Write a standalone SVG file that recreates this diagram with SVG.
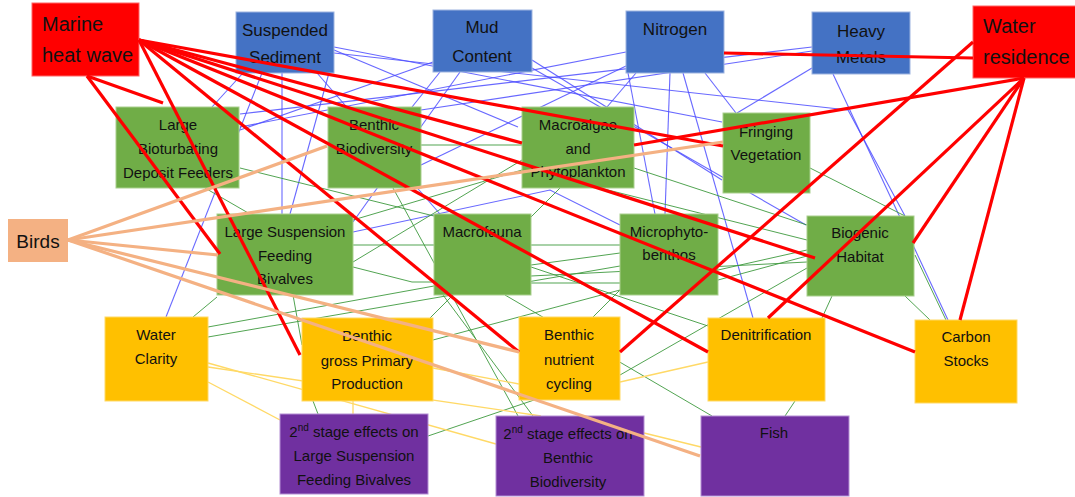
<svg xmlns="http://www.w3.org/2000/svg" width="1075" height="497" viewBox="0 0 1075 497">
<style>
text{font-family:"Liberation Sans",Arial,sans-serif;fill:#111;text-anchor:middle;font-size:15px}
.big{font-size:20px;text-anchor:start}
.mid{font-size:17px}
.birds{font-size:19px}
.drv rect{stroke:#ff6666;stroke-width:1}
.red{fill:#FF0000}
.blue{fill:#4472C4;stroke:#9db4e0;stroke-width:1}
.green{fill:#70AD47;stroke:#a9d08e;stroke-width:1}
.yellow{fill:#FFC000;stroke:#ffd966;stroke-width:1}
.purple{fill:#7030A0;stroke:#b38ed3;stroke-width:1}
.peach{fill:#F4B183}
#thin line,#thin polyline{fill:none}
.b{stroke:#4d4dff;stroke-width:1.1;stroke-opacity:.85}
.g{stroke:#3f9a3f;stroke-width:1;stroke-opacity:.9}
.y{stroke:#FFD966;stroke-width:1.3}
.r{stroke:#FF0000;stroke-width:3.2;fill:none}
.p{stroke:#F4B183;stroke-width:3.2;fill:none}
</style>

<g id="connectors">
<g id="thin">
<!-- blue -->
<line class="b" x1="243" y1="73" x2="212" y2="107"/>
<line class="b" x1="262" y1="73" x2="166" y2="317"/>
<line class="b" x1="282" y1="73" x2="282" y2="214"/>
<line class="b" x1="329" y1="73" x2="290" y2="214"/>
<line class="b" x1="334" y1="50" x2="518" y2="127"/>
<polyline class="b" points="334,53 848,110 905,216"/>
<line class="b" x1="334" y1="47" x2="722" y2="122"/>
<line class="b" x1="317" y1="73" x2="440" y2="214"/>
<polyline class="b" points="353,232 550,190 620,225"/>
<line class="b" x1="433" y1="62" x2="240" y2="130"/>
<line class="b" x1="440" y1="72" x2="412" y2="107"/>
<line class="b" x1="532" y1="60" x2="722" y2="180"/>
<line class="b" x1="532" y1="68" x2="806" y2="225"/>
<line class="b" x1="460" y1="72" x2="353" y2="222"/>
<line class="b" x1="636" y1="73" x2="607" y2="107"/>
<line class="b" x1="670" y1="73" x2="665" y2="214"/>
<line class="b" x1="683" y1="73" x2="753" y2="318"/>
<line class="b" x1="705" y1="73" x2="736" y2="113"/>
<line class="b" x1="626" y1="52" x2="240" y2="127"/>
<line class="b" x1="628" y1="73" x2="655" y2="214"/>
<line class="b" x1="626" y1="66" x2="421" y2="165"/>
<line class="b" x1="812" y1="47" x2="240" y2="114"/>
<line class="b" x1="812" y1="51" x2="421" y2="110"/>
<line class="b" x1="812" y1="68" x2="737" y2="113"/>
<line class="b" x1="833" y1="74" x2="948" y2="320"/>
<!-- green -->
<line class="g" x1="240" y1="168" x2="434" y2="216"/>
<line class="g" x1="421" y1="145" x2="522" y2="145"/>
<line class="g" x1="353" y1="245" x2="434" y2="245"/>
<line class="g" x1="531" y1="245" x2="620" y2="245"/>
<line class="g" x1="531" y1="283" x2="620" y2="283"/>
<polyline class="g" points="353,267 412,282 434,282"/>
<line class="g" x1="353" y1="262" x2="522" y2="160"/>
<line class="g" x1="353" y1="220" x2="522" y2="170"/>
<line class="g" x1="531" y1="265" x2="620" y2="253"/>
<line class="g" x1="634" y1="168" x2="807" y2="225"/>
<line class="g" x1="810" y1="168" x2="905" y2="216"/>
<line class="g" x1="718" y1="270" x2="807" y2="250"/>
<line class="g" x1="718" y1="280" x2="807" y2="256"/>
<line class="g" x1="531" y1="276" x2="807" y2="262"/>
<line class="g" x1="832" y1="296" x2="822" y2="318"/>
<line class="g" x1="905" y1="296" x2="930" y2="320"/>
<line class="g" x1="915" y1="255" x2="946" y2="320"/>
<line class="g" x1="217" y1="297" x2="193" y2="317"/>
<line class="g" x1="208" y1="327" x2="434" y2="286"/>
<line class="g" x1="208" y1="337" x2="620" y2="266"/>
<line class="g" x1="313" y1="401" x2="318" y2="414"/>
<line class="g" x1="428" y1="436" x2="540" y2="398"/>
<line class="g" x1="620" y1="375" x2="807" y2="268"/>
<line class="g" x1="505" y1="295" x2="712" y2="416"/>
<line class="g" x1="795" y1="401" x2="785" y2="416"/>
<line class="g" x1="393" y1="188" x2="518" y2="416"/>
<line class="g" x1="205" y1="188" x2="250" y2="214"/>
<line class="g" x1="293" y1="295" x2="302" y2="345"/>
<line class="g" x1="443" y1="295" x2="533" y2="416"/>
<line class="g" x1="531" y1="267" x2="708" y2="326"/>
<line class="g" x1="620" y1="290" x2="593" y2="317"/>
<line class="g" x1="433" y1="340" x2="620" y2="290"/>
<line class="g" x1="560" y1="188" x2="430" y2="318"/>
<line class="g" x1="600" y1="188" x2="807" y2="240"/>
<!-- yellow -->
<line class="y" x1="208" y1="363" x2="496" y2="444"/>
<line class="y" x1="208" y1="367" x2="541" y2="416"/>
<line class="y" x1="208" y1="382" x2="280" y2="420"/>
<line class="y" x1="353" y1="401" x2="353" y2="414"/>
<line class="y" x1="433" y1="368" x2="519" y2="384"/>
<line class="y" x1="620" y1="382" x2="708" y2="362"/>
<line class="y" x1="644" y1="433" x2="701" y2="447"/>
</g>
</g>

<g id="nodes">
<g id="n-mhw" class="drv"><rect class="red" x="32" y="3" width="107" height="73"/><text class="big" x="42" y="31">Marine</text><text class="big" x="42" y="62">heat wave</text></g>
<g id="n-wr" class="drv"><rect class="red" x="973" y="6" width="104" height="72"/><text class="big" x="983" y="33">Water</text><text class="big" x="983" y="64">residence</text></g>
<g id="n-ss"><rect class="blue" x="236" y="12" width="98" height="61"/><text class="mid" x="285" y="36">Suspended</text><text class="mid" x="285" y="63">Sediment</text></g>
<g id="n-mud"><rect class="blue" x="433" y="10" width="99" height="62"/><text class="mid" x="482" y="33">Mud</text><text class="mid" x="482" y="62">Content</text></g>
<g id="n-nit"><rect class="blue" x="626" y="11" width="98" height="62"/><text class="mid" x="675" y="35">Nitrogen</text></g>
<g id="n-hm"><rect class="blue" x="812" y="12" width="98" height="62"/><text class="mid" x="861" y="37">Heavy</text><text class="mid" x="861" y="63">Metals</text></g>
<g id="n-lbdf"><rect class="green" x="116" y="107" width="123" height="81"/><text x="178" y="130">Large</text><text x="178" y="154">Bioturbating</text><text x="178" y="178">Deposit Feeders</text></g>
<g id="n-bb"><rect class="green" x="328" y="107" width="93" height="81"/><text x="374" y="130">Benthic</text><text x="374" y="154">Biodiversity</text></g>
<g id="n-map"><rect class="green" x="522" y="107" width="112" height="81"/><text x="578" y="130">Macroalgae</text><text x="578" y="154">and</text><text x="578" y="177">Phytoplankton</text></g>
<g id="n-fv"><rect class="green" x="723" y="113" width="87" height="80"/><text x="766" y="137">Fringing</text><text x="766" y="160">Vegetation</text></g>
<g id="n-birds"><rect class="peach" x="8" y="219" width="60" height="43"/><text class="birds" x="38" y="248">Birds</text></g>
<g id="n-lsfb"><rect class="green" x="217" y="214" width="136" height="81"/><text x="285" y="237">Large Suspension</text><text x="285" y="261">Feeding</text><text x="285" y="284">Bivalves</text></g>
<g id="n-mf"><rect class="green" x="434" y="214" width="97" height="81"/><text x="482" y="237">Macrofauna</text></g>
<g id="n-mpb"><rect class="green" x="620" y="214" width="98" height="81"/><text x="669" y="237">Microphyto-</text><text x="669" y="260">benthos</text></g>
<g id="n-bh"><rect class="green" x="807" y="216" width="107" height="80"/><text x="860" y="238">Biogenic</text><text x="860" y="262">Habitat</text></g>
<g id="n-wc"><rect class="yellow" x="105" y="317" width="103" height="84"/><text x="156" y="340">Water</text><text x="156" y="364">Clarity</text></g>
<g id="n-bgpp"><rect class="yellow" x="302" y="318" width="131" height="83"/><text x="367" y="341">Benthic</text><text x="367" y="366">gross Primary</text><text x="367" y="389">Production</text></g>
<g id="n-bnc"><rect class="yellow" x="519" y="317" width="101" height="83"/><text x="569" y="340">Benthic</text><text x="569" y="365">nutrient</text><text x="569" y="389">cycling</text></g>
<g id="n-den"><rect class="yellow" x="708" y="318" width="117" height="83"/><text x="766" y="340">Denitrification</text></g>
<g id="n-cs"><rect class="yellow" x="915" y="320" width="102" height="83"/><text x="966" y="342">Carbon</text><text x="966" y="366">Stocks</text></g>
<g id="n-2lsfb"><rect class="purple" x="280" y="414" width="148" height="80"/><text x="354" y="437">2<tspan font-size="10" dy="-6">nd</tspan><tspan dy="6"> stage effects on</tspan></text><text x="354" y="461">Large Suspension</text><text x="354" y="485">Feeding Bivalves</text></g>
<g id="n-2bb"><rect class="purple" x="496" y="416" width="148" height="80"/><text x="568" y="439">2<tspan font-size="10" dy="-6">nd</tspan><tspan dy="6"> stage effects on</tspan></text><text x="568" y="463">Benthic</text><text x="568" y="487">Biodiversity</text></g>
<g id="n-fish"><rect class="purple" x="701" y="416" width="148" height="80"/><text x="774" y="438">Fish</text></g>
</g>

<g id="driver-connectors">
<line class="r" x1="87" y1="76" x2="163" y2="103"/>
<line class="r" x1="87" y1="76" x2="220" y2="254"/>
<line class="r" x1="139" y1="40" x2="300" y2="355"/>
<line class="r" x1="139" y1="40" x2="519" y2="352"/>
<line class="r" x1="139" y1="40" x2="708" y2="352"/>
<line class="r" x1="139" y1="40" x2="915" y2="352"/>
<line class="r" x1="139" y1="40" x2="815" y2="258"/>
<line class="r" x1="139" y1="40" x2="522" y2="143"/>
<line class="r" x1="139" y1="40" x2="723" y2="146"/>
<line class="r" x1="973" y1="58" x2="724" y2="53"/>
<line class="r" x1="1024" y1="78" x2="634" y2="145"/>
<line class="r" x1="973" y1="42" x2="620" y2="352"/>
<line class="r" x1="1024" y1="78" x2="768" y2="318"/>
<line class="r" x1="1024" y1="78" x2="913" y2="243"/>
<line class="r" x1="1024" y1="78" x2="960" y2="320"/>
<line class="p" x1="68" y1="240" x2="327" y2="146"/>
<line class="p" x1="68" y1="240" x2="723" y2="142"/>
<line class="p" x1="68" y1="240" x2="218" y2="255"/>
<line class="p" x1="68" y1="240" x2="519" y2="352"/>
<line class="p" x1="68" y1="240" x2="700" y2="456"/>
</g>
</svg>
